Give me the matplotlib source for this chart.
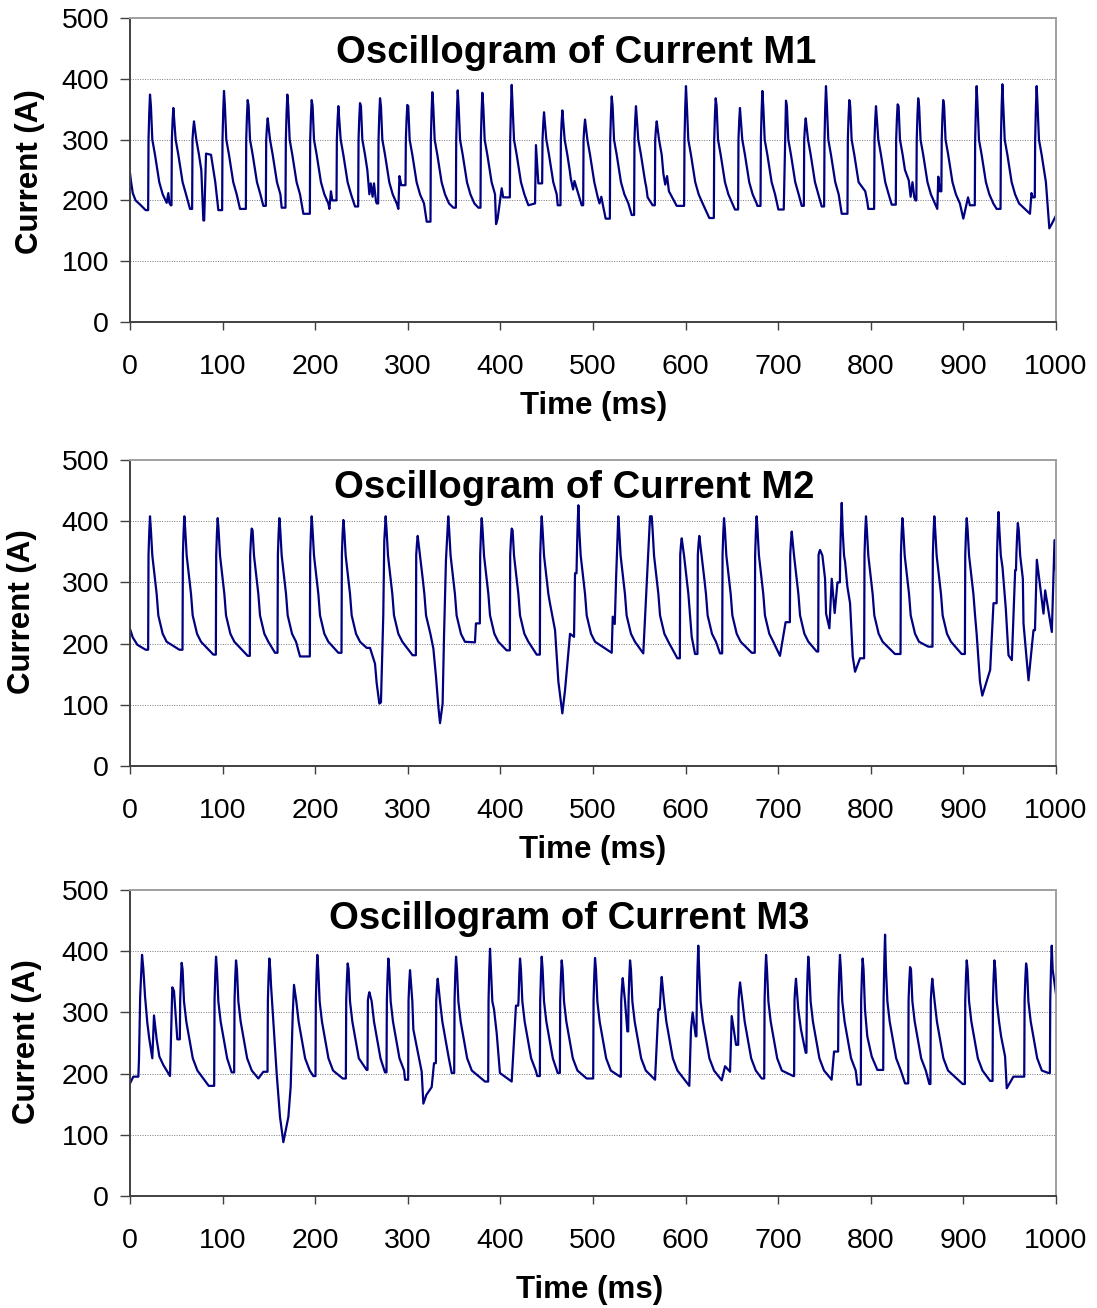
import numpy as np
import matplotlib.pyplot as plt

plt.rcParams['font.family'] = ['Liberation Sans', 'DejaVu Sans']

# ---- M1: peaks, troughs after each peak, extra wiggles (ms, A) ----
p1_peak_t = [21.6, 46.8, 69.1, 82.1, 101.5, 127.1, 148.7, 169.9, 196.2, 225, 248.4, 270, 299.5, 326.5,
             353.9, 380.5, 412.2, 447.1, 466.9, 491.4, 520.2, 546.4, 568.8, 600.4, 632.5, 658.7, 682.9,
             708.4, 729.7, 751.6, 776.8, 805.6, 829, 851.2, 878.2, 914.3, 942.1, 979.1]
p1_peak_a = [374, 352, 330, 277, 380, 365, 335, 374, 365, 355, 360, 368, 357, 378, 381, 377, 390, 345,
             348, 333, 371, 355, 330, 388, 368, 352, 380, 364, 335, 388, 365, 355, 358, 368, 365, 388,
             391, 388]
p1_trough_t = [44, 64.8, 79.2, 95.4, 118.8, 144, 163.8, 187.2, 215.3, 243, 266.4, 289.8, 320.4, 349.2,
               376.2, 395.3, 430.2, 461.9, 487.8, 513.7, 541.8, 564.4, 590.4, 625.6, 653.3, 677.5, 700.2,
               725.4, 747, 768.6, 797.3, 822.6, 848.2, 871.8, 899.9, 935.9, 971.9, 992.8]
p1_trough_a = [192, 186, 167, 184, 186, 191, 188, 178, 186, 190, 195, 186, 165, 188, 188, 161, 192, 192,
               192, 170, 176, 192, 191, 171, 185, 191, 185, 191, 190, 178, 186, 193, 200, 186, 170, 186,
               178, 154]
p1_extra_t = [0, 1, 3, 6, 11, 16.9, 39.6, 41.4, 42.5, 217, 218.5, 258.5, 260, 262, 263.5, 265.6, 291, 293,
              397, 401.4, 403, 437.4, 438.4, 441, 476, 478.5, 480, 505, 507, 509, 511, 557.5, 559, 576,
              578, 580, 582, 706, 794, 796, 841, 843, 845, 847, 872.9, 874.5, 905, 907, 973.5, 975, 995,
              1000]
p1_extra_a = [245, 232, 212, 200, 193, 184, 196, 212, 196, 215, 200, 210, 228, 206, 228, 199, 240, 225,
              170, 220, 205, 195, 291, 228, 236, 218, 232, 206, 195, 206, 190, 222, 205, 244, 226, 240,
              215, 185, 215, 200, 233, 206, 230, 205, 239, 215, 205, 192, 212, 205, 160, 175]
p1_decay_dt = [1.0, 2.5, 5.4, 7.9, 10, 13.7, 18]
p1_decay_a = [355, 300, 275, 250, 230, 210, 195]
p1_rise_a = 300

# ---- M2 ----
p2_peak_t = [21.6, 58.7, 94.7, 131.4, 161.3, 196.2, 230.4, 276.1, 310.7, 343.7, 379.8, 412.2, 444.6,
             484.2, 527.3, 563.4, 595.8, 614.8, 641.5, 676.7, 714.6, 745.2, 768.6, 794.8, 834.1, 868.6,
             903.6, 937.9, 958.8, 979.3]
p2_peak_a = [408, 408, 405, 388, 405, 408, 402, 408, 376, 408, 405, 388, 408, 426, 408, 408, 372, 376,
             405, 408, 383, 353, 430, 408, 405, 408, 405, 415, 397, 337]
p2_trough_t = [53.3, 90, 127.1, 156.6, 183.6, 225, 269.3, 305.2, 334.8, 372.5, 406.7, 439.2, 466.9,
               520.2, 554.3, 591.1, 610.2, 637.2, 671.4, 701.9, 741.6, 755.3, 783, 826.1, 862.1, 898.1,
               920.4, 952.3, 970.3, 995.5]
p2_trough_a = [190, 182, 180, 185, 179, 185, 102, 181, 70, 202, 189, 182, 86, 185, 184, 176, 183, 184,
               185, 180, 187, 225, 154, 183, 195, 183, 115, 173, 140, 219]
p2_extra_t = [0, 3, 8, 16.9, 255.6, 259.2, 264.6, 266.4, 271, 273.5, 274.6, 327.6, 330.5, 333, 337.6,
              339.1, 341.2, 373.6, 453.5, 459, 462.6, 469.8, 475.2, 479.5, 480.6, 521.3, 523.5, 525,
              561.6, 606.6, 708, 751.7, 757.8, 761, 764, 772.2, 774.7, 777.6, 780.5, 788.4, 914.3, 917.9,
              928.9, 932.5, 942.2, 945.8, 948.7, 955.9, 964.9, 975.7, 984.7, 986.5, 988.3, 998.4, 1000]
p2_extra_a = [224, 210, 198, 190, 193, 193, 167, 135, 104, 245, 368, 192, 145, 97, 102, 211, 336, 233,
              266, 222, 138, 124, 216, 211, 315, 244, 232, 310, 408, 211, 235, 249, 306, 250, 300, 334,
              293, 266, 179, 176, 216, 138, 157, 266, 325, 257, 181, 320, 233, 222, 271, 249, 287, 369,
              320]
p2_decay_dt = [1.0, 2.5, 5.4, 7.2, 9, 13.7, 18]
p2_decay_a = [385, 344, 306, 281, 246, 216, 203]
p2_rise_a = 345

# ---- M3 ----
p3_peak_t = [13, 45.7, 55.8, 92.9, 114.5, 150.5, 177.1, 202.3, 235.1, 258.5, 279, 302.4, 332.3, 352.1,
             388.8, 421.2, 444.6, 466.2, 502.2, 532.1, 540, 574.2, 613.7, 658.8, 686.9, 719.2, 732.5,
             766.7, 791.2, 815.4, 842.4, 866.4, 903.6, 933.5, 967.7, 995.4]
p3_peak_a = [394, 341, 381, 391, 385, 388, 345, 394, 380, 333, 388, 369, 355, 391, 404, 388, 391, 385,
             389, 356, 385, 358, 409, 349, 394, 355, 391, 394, 388, 427, 374, 355, 385, 385, 380, 409]
p3_trough_t = [43.2, 51.1, 85, 109.8, 138.6, 165.6, 198, 229.7, 255.6, 275.4, 297, 316.8, 347.4, 383.4,
               412.2, 439.8, 461.9, 493.2, 529.2, 537.1, 567, 604, 639, 682.2, 716.3, 729.7, 757.7,
               785.5, 807.1, 837, 863.2, 899.2, 928.9, 946.8, 991.8, 1000]
p3_trough_a = [196, 256, 180, 202, 192, 88, 196, 192, 206, 202, 190, 151, 201, 187, 187, 196, 201, 192,
               195, 269, 190, 180, 189, 192, 196, 234, 190, 182, 206, 184, 183, 183, 188, 176, 201, 330]
p3_extra_t = [0, 3.6, 9, 9.7, 11, 14.4, 16.2, 18.7, 20.9, 24.1, 25.9, 28.8, 31.7, 36, 47.5, 144, 152.3,
              158.4, 162, 171, 173.5, 175.7, 306, 315, 320, 325.8, 328.3, 393.1, 396, 399.5, 416.8,
              570.6, 605.8, 607.6, 610.9, 642.6, 648, 649.8, 654.5, 721.7, 724.6, 760.3, 793.7, 796.2,
              801, 940.7, 945, 954, 963]
p3_extra_a = [184, 195, 195, 223, 327, 371, 327, 283, 256, 225, 295, 256, 228, 214, 335, 203, 344, 200,
              129, 129, 178, 295, 272, 203, 165, 178, 217, 305, 266, 201, 311, 305, 272, 300, 261, 212,
              203, 294, 247, 305, 272, 236, 305, 261, 228, 261, 228, 195, 195]
p3_decay_dt = [1.0, 2.5, 5, 8.5, 12, 17]
p3_decay_a = [370, 318, 285, 255, 225, 205]
p3_rise_a = 320


def trace(peak_t, peak_a, trough_t, trough_a, extra_t, extra_a, decay_dt, decay_a, rise_a):
    pts = [(t, a, 0) for t, a in zip(extra_t, extra_a)]
    for tp, pa, tt, ta in zip(peak_t, peak_a, trough_t, trough_a):
        pts += [(tp, pa, 1), (tt, ta, 0)]
        inside = [(t, a) for t, a in zip(extra_t, extra_a) if tp < t < tt]
        lim_t, lim_a = min(inside) if inside else (tt, ta)
        for dt, a in zip(decay_dt, decay_a):
            if tp + dt < lim_t - 0.3 and lim_a < a < pa:
                pts.append((tp + dt, a, 0))
    pts.sort()
    out = []
    for t, a, is_peak in pts:
        if is_peak and out and out[-1][0] < t - 2.5:
            # near-vertical rise: hold the low level, then step up to the peak
            pv = out[-1][1]
            out.append((t - 2.0, pv))
            if pv < rise_a < a:
                out.append((t - 1.6, rise_a))
                out.append((t - 0.8, rise_a + 0.6 * (a - rise_a)))
        out.append((t, a))
    t, a = zip(*out)
    return np.array(t), np.array(a)


series = [
    trace(p1_peak_t, p1_peak_a, p1_trough_t, p1_trough_a, p1_extra_t, p1_extra_a,
          p1_decay_dt, p1_decay_a, p1_rise_a),
    trace(p2_peak_t, p2_peak_a, p2_trough_t, p2_trough_a, p2_extra_t, p2_extra_a,
          p2_decay_dt, p2_decay_a, p2_rise_a),
    trace(p3_peak_t, p3_peak_a, p3_trough_t, p3_trough_a, p3_extra_t, p3_extra_a,
          p3_decay_dt, p3_decay_a, p3_rise_a),
]
titles = ["Oscillogram of Current M1", "Oscillogram of Current M2", "Oscillogram of Current M3"]

W, H = 1097, 1308
fig = plt.figure(figsize=(W / 100, H / 100), dpi=100)
# axes boxes in pixels: top, bottom
boxes = [(18, 322), (460, 766), (890, 1196)]
title_xy = [(576, 53), (574, 488), (569, 919)]
xlab_xy = [(594, 406), (593, 850), (590, 1290)]
ylab_xy = [(30, 172), (22, 612), (27, 1042)]

for k, ((top, bot), (t, a)) in enumerate(zip(boxes, series)):
    ax = fig.add_axes([130 / W, 1 - bot / H, 926 / W, (bot - top) / H])
    ax.plot(t, a, color="#000080", lw=1.6)
    ax.set(xlim=(0, 1000), ylim=(0, 500))
    ax.set_xticks(range(0, 1001, 100))
    ax.set_yticks(range(0, 501, 100))
    ax.grid(axis="y", ls=(0, (1, 1.5)), color="#7a7a7a", lw=0.7)
    ax.set_axisbelow(True)
    ax.tick_params(axis="x", direction="out", length=6, width=1, labelsize=20.5, pad=17, color="#404040")
    ax.tick_params(axis="y", direction="out", length=7, width=1, labelsize=20.5, pad=8, color="#404040")
    for s in ["left", "bottom"]:
        ax.spines[s].set_color("#404040")
        ax.spines[s].set_linewidth(1.4)
    for s in ["top", "right"]:
        ax.spines[s].set_color("#a0a0a0")
        ax.spines[s].set_linewidth(1.4)

    fig.text(title_xy[k][0] / W, 1 - title_xy[k][1] / H, titles[k], ha="center", va="center",
             fontsize=27.5, fontweight="bold")
    fig.text(xlab_xy[k][0] / W, 1 - xlab_xy[k][1] / H, "Time (ms)", ha="center", va="center",
             fontsize=22.5, fontweight="bold")
    fig.text(ylab_xy[k][0] / W, 1 - ylab_xy[k][1] / H, "Current (A)", ha="center", va="center",
             rotation=90, fontsize=22.5, fontweight="bold")

fig.savefig("out.png", dpi=100)
